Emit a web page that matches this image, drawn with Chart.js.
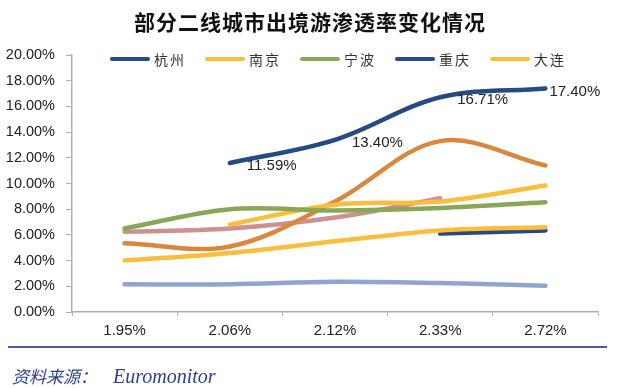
<!DOCTYPE html>
<html>
<head>
<meta charset="utf-8">
<script src="https://cdn.jsdelivr.net/npm/chart.js@4/dist/chart.umd.min.js"></script>
<style>
  body { margin: 0; background: #fff; }
  #wrap { position: relative; width: 617px; height: 388px; overflow: hidden; }
  #chart { position: absolute; left: 0; top: 0; }
  #title {
    position: absolute; left: 0; width: 620px; top: 6px; text-align: center;
    font: 700 21px "Noto Sans CJK SC", sans-serif; letter-spacing: 1px; color: #111;
  }
  #legend { position: absolute; left: 110px; top: 49px; display: flex; gap: 19px; }
  .item { display: flex; align-items: center; height: 20px; }
  .swatch { width: 40px; height: 4.5px; border-radius: 3px; margin-right: 4px; }
  .item span { font: 14px "Noto Sans CJK SC", sans-serif; letter-spacing: 2px; color: #333; }
  #rule { position: absolute; left: 8px; top: 346px; width: 599px; height: 1.5px; background: #4a5aa8; }
  #source { position: absolute; left: 12px; top: 363px; color: #2e3d94; font-style: italic; white-space: nowrap; }
  #source .cn { font: italic 17px "Noto Sans CJK SC", sans-serif; }
  #source .en { font: italic 20px "Liberation Serif", serif; margin-left: 16px; }
</style>
</head>
<body>
<div id="wrap">
  <canvas id="chart" width="617" height="388"></canvas>
  <div id="title">部分二线城市出境游渗透率变化情况</div>
  <div id="legend"></div>
  <div id="rule"></div>
  <div id="source"><span class="cn">资料来源：</span><span class="en">Euromonitor</span></div>
</div>
<script>
const categories = ['1.95%', '2.06%', '2.12%', '2.33%', '2.72%'];

const hangzhou  = [null, 11.59, 13.40, 16.71, 17.40];
const nanjing   = [4.0, 4.6, 5.5, 6.35, 6.6];
const ningbo    = [6.5, 8.0, 7.9, 8.1, 8.55];
const chongqing = [null, null, null, 6.1, 6.35];
const dalian    = [null, 6.8, 8.35, 8.6, 9.85];
const city6     = [5.35, 5.1, 8.6, 13.3, 11.4];
const city7     = [6.25, 6.5, 7.35, 8.85, null];
const city8     = [2.15, 2.15, 2.35, 2.25, 2.05];

const seriesNames = ['杭州', '南京', '宁波', '重庆', '大连', '城市6', '城市7', '城市8'];
const seriesData = [hangzhou, nanjing, ningbo, chongqing, dalian, city6, city7, city8];
const seriesColors = ['#264a82', '#f8be3c', '#8aa657', '#264a82', '#f8be3c', '#d9873f', '#cc9292', '#8fa4ce'];
const legendCount = 5;

const yMin = 0, yMax = 20, yStep = 2;

// legend (only the first five fit in the original picture)
const legendEl = document.getElementById('legend');
for (let i = 0; i < legendCount; i++) {
    const item = document.createElement('div');
    item.className = 'item';
    item.innerHTML = '<div class="swatch" style="background:' + seriesColors[i] + '"></div><span>' + seriesNames[i] + '</span>';
    legendEl.appendChild(item);
}

const datasets = seriesData.map((data, i) => ({
    label: seriesNames[i],
    data: data,
    borderColor: seriesColors[i],
    backgroundColor: seriesColors[i],
    borderWidth: 4.5,
    borderCapStyle: 'round',
    tension: 0.35,
    pointRadius: 0,
    fill: false
}));

// percentage labels on the first series
const valueLabels = {
    id: 'valueLabels',
    afterDatasetsDraw(chart) {
        const meta = chart.getDatasetMeta(0);
        const ctx = chart.ctx;
        const dx = [17, 17, 17, 17, 4];
        ctx.save();
        ctx.font = '15px "Liberation Sans", Arial, sans-serif';
        ctx.fillStyle = '#222';
        ctx.textAlign = 'left';
        ctx.textBaseline = 'middle';
        meta.data.forEach((pt, i) => {
            const v = hangzhou[i];
            if (v === null) return;
            ctx.fillText(v.toFixed(2) + '%', pt.x + dx[i], pt.y + 3);
        });
        ctx.restore();
    }
};

new Chart(document.getElementById('chart'), {
    type: 'line',
    data: { labels: categories, datasets: datasets },
    options: {
        responsive: false,
        animation: false,
        layout: { padding: { top: 55, left: 6, right: 19, bottom: 42 } },
        plugins: {
            legend: { display: false },
            title: { display: false },
            tooltip: { enabled: false }
        },
        scales: {
            x: {
                offset: true,
                grid: { offset: true, drawOnChartArea: false, tickLength: 4, color: '#b0b0b0' },
                border: { color: '#b0b0b0', width: 1.5 },
                ticks: { color: '#222', padding: 6, font: { family: '"Liberation Sans", Arial, sans-serif', size: 15 } }
            },
            y: {
                min: yMin,
                max: yMax,
                afterFit: scale => { scale.width = 66; },
                grid: { drawOnChartArea: false, tickLength: 6, color: '#b0b0b0' },
                border: { color: '#b0b0b0', width: 1.5 },
                ticks: {
                    stepSize: yStep,
                    color: '#222',
                    padding: 11,
                    font: { family: '"Liberation Sans", Arial, sans-serif', size: 14.5 },
                    callback: v => v.toFixed(2) + '%'
                }
            }
        }
    },
    plugins: [valueLabels]
});
</script>
</body>
</html>
